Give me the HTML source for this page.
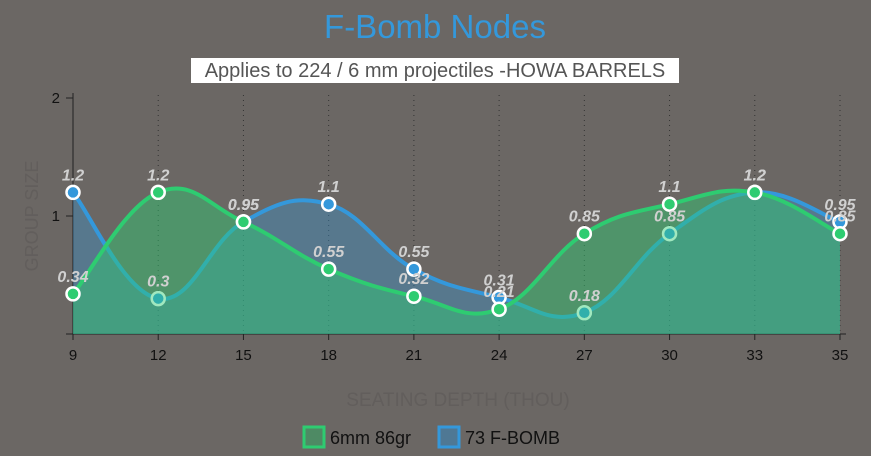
<!DOCTYPE html>
<html><head><meta charset="utf-8"><style>
html,body{margin:0;padding:0;background:#6b6764;}
svg{display:block;font-family:"Liberation Sans",sans-serif;}
</style></head><body>
<svg id="s" width="871" height="456" xmlns="http://www.w3.org/2000/svg">
<rect width="871" height="456" fill="#6b6764"/>
<text x="435" y="38" text-anchor="middle" font-size="33" fill="#3498db">F-Bomb Nodes</text>
<rect x="191" y="58" width="488" height="25" fill="#ffffff"/>
<text x="435" y="77" text-anchor="middle" font-size="20" fill="#555">Applies to 224 / 6 mm projectiles -HOWA BARRELS</text>
<text transform="translate(38,216) rotate(-90)" text-anchor="middle" font-size="18" fill="#625e5c">GROUP SIZE</text>
<text x="458" y="406" text-anchor="middle" font-size="19" fill="#625e5c">SEATING DEPTH (THOU)</text>
<g id="grid"></g>
<line x1="73" y1="93" x2="73" y2="335" stroke="#222" stroke-width="1"/>
<line x1="66" y1="334" x2="846" y2="334" stroke="#222" stroke-width="1"/>
<text x="60" y="103" text-anchor="end" font-size="15" fill="#111">2</text>
<text x="60" y="221" text-anchor="end" font-size="15" fill="#111">1</text>
<g id="plot"></g>
<rect x="304" y="427" width="20" height="20" fill="#4e8a64" stroke="#2ecc71" stroke-width="3"/>
<text x="330" y="444" font-size="18" fill="#111">6mm 86gr</text>
<rect x="439" y="427" width="20" height="20" fill="#4f7894" stroke="#3498db" stroke-width="3"/>
<text x="465" y="444" font-size="18" fill="#111">73 F-BOMB</text>
</svg>
<script>
const labels=[9,12,15,18,21,24,27,30,33,35];
const g=[0.34,1.2,0.95,0.55,0.32,0.21,0.85,1.1,1.2,0.85];
const b=[1.2,0.3,0.95,1.1,0.55,0.31,0.18,0.85,1.2,0.95];
const X=i=>73+i*(767/9), Y=v=>334-v*118;
let grid='';
labels.forEach((l,i)=>{const x=X(i);
 if(i>0)grid+=`<line x1="${x}" y1="95" x2="${x}" y2="334" stroke="#333" stroke-dasharray="1,4"/>`;
 grid+=`<line x1="${x}" y1="334" x2="${x}" y2="340" stroke="#222"/><text x="${x}" y="360" text-anchor="middle" font-size="15" fill="#111">${l}</text>`;});
grid+=`<line x1="66" y1="98" x2="73" y2="98" stroke="#222"/><line x1="66" y1="216" x2="73" y2="216" stroke="#222"/>`;
document.getElementById('grid').innerHTML=grid;
function path(v){const p=v.map((y,i)=>[X(i),Y(y)]);let d=`M${p[0][0]},${p[0][1]}`;const t=0.4;
 for(let i=0;i<p.length-1;i++){const p0=p[i-1]||p[i],p1=p[i],p2=p[i+1],p3=p[i+2]||p2;
  const c1=[p1[0]+(p2[0]-p0[0])*t/2,p1[1]+(p2[1]-p0[1])*t/2],c2=[p2[0]-(p3[0]-p1[0])*t/2,p2[1]-(p3[1]-p1[1])*t/2];
  d+=` C${c1[0]},${c1[1]} ${c2[0]},${c2[1]} ${p2[0]},${p2[1]}`;}return d;}
let s='';
const pb=path(b),pg=path(g);
s+=`<path d="${pb} L${X(9)},334 L${X(0)},334Z" fill="rgba(52,152,219,0.35)"/>`;
s+=`<path d="${pb}" fill="none" stroke="#3498db" stroke-width="4"/>`;
b.forEach((v,i)=>{s+=`<circle cx="${X(i)}" cy="${Y(v)}" r="6.5" fill="#3498db" stroke="#fff" stroke-width="2.5"/>`;});
s+=`<path d="${pg} L${X(9)},334 L${X(0)},334Z" fill="rgba(46,204,113,0.45)"/>`;
s+=`<path d="${pg}" fill="none" stroke="#2ecc71" stroke-width="4"/>`;
g.forEach((v,i)=>{s+=`<circle cx="${X(i)}" cy="${Y(v)}" r="6.5" fill="#2ecc71" stroke="#fff" stroke-width="2.5"/>`;});
const lab=(v,i)=>`<text x="${X(i)}" y="${Y(v)-12}" text-anchor="middle" font-size="16" font-style="italic" font-weight="bold" fill="#d0d0d0">${v}</text>`;
b.forEach((v,i)=>s+=lab(v,i));g.forEach((v,i)=>s+=lab(v,i));
document.getElementById('plot').innerHTML=s;
</script>
</body></html>
